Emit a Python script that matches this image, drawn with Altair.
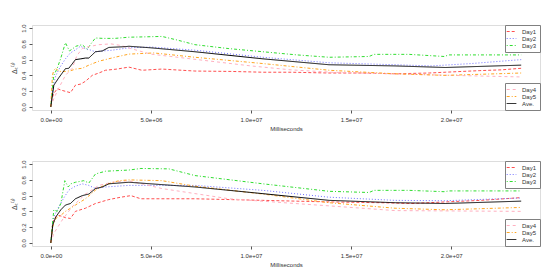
import altair as alt
import pandas as pd

SERIES = ["Day1", "Day2", "Day3", "Day4", "Day5", "Ave."]
COLORS = ["#ff5050", "#7070ff", "#30dd30", "#ffb0c0", "#ffa520", "#000000"]
DASHES = [[3, 2], [1, 2], [1, 2, 3, 2], [3, 3], [3, 2, 1, 2], [1, 0]]
WIDTHS = [1, 1, 1, 1, 1, 1.8]

X_TICKS = [0, 5e6, 1e7, 1.5e7, 2e7]
X_TICK_LABELS = ["0.0e+00", "5.0e+06", "1.0e+07", "1.5e+07", "2.0e+07"]
Y_TICKS = [0, 0.2, 0.4, 0.6, 0.8, 1.0]

# ---- top panel (x in millions of ms) ----
top_day1_x = [0, 0.05, 0.15, 0.32, 0.55, 0.98, 1.23, 1.5, 1.73, 2.07, 2.4, 2.73, 3.3, 3.9, 4.55, 5.55, 7.2, 9, 10.6, 12, 13.9, 15.5, 17.2, 18.9, 19.7, 21.4, 22.5, 23.5]
top_day1_y = [0, 0.10, 0.17, 0.23, 0.21, 0.18, 0.275, 0.29, 0.325, 0.40, 0.43, 0.465, 0.48, 0.505, 0.465, 0.48, 0.455, 0.45, 0.44, 0.44, 0.43, 0.43, 0.42, 0.43, 0.44, 0.46, 0.47, 0.49]
top_day2_x = [0, 0.1, 0.25, 0.5, 0.73, 0.98, 1.2, 1.48, 1.73, 2.0, 2.23, 2.6, 3.07, 3.9, 5, 7.2, 10.6, 13.9, 17.2, 19, 21, 23.5]
top_day2_y = [0, 0.25, 0.40, 0.52, 0.61, 0.685, 0.72, 0.77, 0.74, 0.72, 0.70, 0.71, 0.72, 0.75, 0.76, 0.72, 0.63, 0.56, 0.535, 0.52, 0.55, 0.60]
top_day3_x = [0, 0.1, 0.15, 0.32, 0.5, 0.73, 0.93, 1.1, 1.25, 1.57, 1.82, 2.0, 2.23, 2.6, 3.2, 3.9, 4.8, 5.55, 6.3, 7.2, 8.9, 10.6, 12.3, 13.9, 15.9, 16.15, 17.9, 19.65, 19.9, 23.5]
top_day3_y = [0, 0.30, 0.40, 0.49, 0.62, 0.815, 0.71, 0.74, 0.77, 0.79, 0.73, 0.80, 0.875, 0.87, 0.87, 0.885, 0.89, 0.895, 0.85, 0.79, 0.74, 0.70, 0.66, 0.63, 0.64, 0.667, 0.667, 0.64, 0.66, 0.66]
top_day4_x = [0, 0.15, 0.4, 0.73, 1.07, 1.3, 1.57, 1.8, 2.4, 3.0, 3.5, 4.0, 5.0, 6.0, 8.0, 10, 12, 14, 17, 20, 23.5]
top_day4_y = [0, 0.105, 0.24, 0.40, 0.49, 0.65, 0.74, 0.76, 0.79, 0.80, 0.78, 0.74, 0.67, 0.64, 0.58, 0.52, 0.47, 0.44, 0.42, 0.40, 0.38]
top_day5_x = [0, 0.08, 0.15, 0.25, 0.4, 0.73, 1.0, 1.23, 1.57, 1.9, 2.4, 3.2, 3.9, 5.15, 7.2, 10.6, 13.9, 17.2, 19.7, 23.5]
top_day5_y = [0, 0.40, 0.465, 0.49, 0.45, 0.45, 0.46, 0.48, 0.49, 0.53, 0.58, 0.63, 0.67, 0.685, 0.63, 0.55, 0.465, 0.42, 0.40, 0.43]
top_ave_x = [0, 0.15, 0.4, 0.73, 0.9, 1.23, 1.5, 1.73, 1.9, 2.23, 2.57, 2.9, 3.73, 3.9, 5.0, 7.2, 10.6, 13.9, 17.2, 19.7, 23.5]
top_ave_y = [0, 0.275, 0.37, 0.485, 0.49, 0.60, 0.61, 0.62, 0.62, 0.70, 0.71, 0.755, 0.765, 0.77, 0.75, 0.70, 0.61, 0.535, 0.52, 0.50, 0.53]

# ---- bottom panel ----
bot_day1_x = [0, 0.1, 0.25, 0.4, 0.73, 0.98, 1.23, 1.73, 2.23, 2.9, 3.5, 4.0, 4.5, 5.55, 7.2, 10.6, 13.9, 16.5, 18, 19.7, 21.5, 23.5]
bot_day1_y = [0, 0.27, 0.33, 0.35, 0.32, 0.31, 0.40, 0.44, 0.50, 0.55, 0.58, 0.60, 0.56, 0.56, 0.56, 0.54, 0.52, 0.51, 0.50, 0.52, 0.54, 0.575]
bot_day2_x = [0, 0.15, 0.4, 0.67, 0.9, 1.23, 1.57, 1.9, 2.23, 2.73, 3.9, 7.2, 10.6, 13.9, 17.2, 19.7, 23.5]
bot_day2_y = [0, 0.33, 0.46, 0.58, 0.67, 0.72, 0.75, 0.73, 0.69, 0.71, 0.73, 0.73, 0.667, 0.58, 0.54, 0.535, 0.57]
bot_day3_x = [0, 0.1, 0.15, 0.32, 0.5, 0.7, 0.87, 1.0, 1.23, 1.65, 1.9, 2.23, 2.73, 3.9, 4.5, 5.9, 7.2, 10.6, 13.9, 15.9, 16.15, 17.9, 19.65, 19.9, 23.5]
bot_day3_y = [0, 0.29, 0.42, 0.40, 0.50, 0.79, 0.71, 0.75, 0.77, 0.79, 0.76, 0.875, 0.91, 0.925, 0.945, 0.94, 0.855, 0.75, 0.655, 0.64, 0.667, 0.667, 0.65, 0.66, 0.66]
bot_day4_x = [0, 0.15, 0.57, 1.07, 1.73, 2.4, 3.07, 3.9, 5.55, 8.9, 12.2, 13.9, 17.2, 23.5]
bot_day4_y = [0, 0.12, 0.29, 0.46, 0.62, 0.73, 0.77, 0.79, 0.69, 0.56, 0.50, 0.47, 0.41, 0.40]
bot_day5_x = [0, 0.1, 0.25, 0.5, 0.73, 1.23, 1.73, 2.23, 2.73, 3.4, 3.9, 5.55, 7.2, 10.6, 13.9, 17.2, 19.7, 23.5]
bot_day5_y = [0, 0.21, 0.31, 0.35, 0.40, 0.48, 0.56, 0.67, 0.74, 0.79, 0.80, 0.79, 0.72, 0.62, 0.51, 0.44, 0.42, 0.45]
bot_ave_x = [0, 0.1, 0.25, 0.5, 0.73, 0.98, 1.23, 1.57, 1.9, 2.23, 2.57, 2.9, 3.9, 7.2, 10.6, 13.9, 17.2, 19.7, 23.5]
bot_ave_y = [0, 0.23, 0.33, 0.42, 0.48, 0.50, 0.56, 0.60, 0.62, 0.69, 0.71, 0.75, 0.77, 0.71, 0.625, 0.54, 0.51, 0.50, 0.53]

TOP = {"Day1": (top_day1_x, top_day1_y), "Day2": (top_day2_x, top_day2_y),
       "Day3": (top_day3_x, top_day3_y), "Day4": (top_day4_x, top_day4_y),
       "Day5": (top_day5_x, top_day5_y), "Ave.": (top_ave_x, top_ave_y)}
BOT = {"Day1": (bot_day1_x, bot_day1_y), "Day2": (bot_day2_x, bot_day2_y),
       "Day3": (bot_day3_x, bot_day3_y), "Day4": (bot_day4_x, bot_day4_y),
       "Day5": (bot_day5_x, bot_day5_y), "Ave.": (bot_ave_x, bot_ave_y)}

FONT = "Liberation Sans"
label_expr = "[" + ",".join("'%s'" % s for s in X_TICK_LABELS) + "][indexof([" + \
    ",".join(repr(v) for v in X_TICKS) + "], datum.value)]"


def table(d):
    rows = []
    for s, (xs, ys) in d.items():
        for xv, yv in zip(xs, ys):
            rows.append({"series": s, "x": xv * 1e6, "y": yv})
    return pd.DataFrame(rows)


def group(df, names, orient):
    idx = [SERIES.index(n) for n in names]
    leg = alt.Legend(orient=orient, offset=0, title=None, padding=3,
                     strokeColor="#808080", fillColor="white",
                     labelFontSize=6, labelFont=FONT, labelColor="#333",
                     symbolType="M-1.6,0L1.6,0", symbolSize=36, rowPadding=0,
                     labelOffset=7, cornerRadius=0)
    return alt.Chart(df[df.series.isin(names)]).mark_line(clip=True).encode(
        x=alt.X("x:Q", scale=alt.Scale(domain=[-0.94e6, 2.444e7], nice=False, zero=False),
                axis=alt.Axis(values=X_TICKS, labelExpr=label_expr, title="Milliseconds",
                              grid=False, domain=False, tickSize=3, tickColor="#555",
                              labelFontSize=6, labelFont=FONT, labelPadding=3,
                              titleFontSize=6, titleFont=FONT, titleFontWeight="normal",
                              titlePadding=3, labelColor="#333", titleColor="#333")),
        y=alt.Y("y:Q", scale=alt.Scale(domain=[-0.04, 1.04], nice=False, zero=False),
                axis=alt.Axis(values=Y_TICKS, format=".1f", title="Δₜ⁽ˡ⁾",
                              grid=False, domain=False, tickSize=3, tickColor="#555",
                              labelAngle=270, labelFontSize=6, labelFont=FONT,
                              labelPadding=3, titleFontSize=7, titleFont=FONT,
                              titleFontWeight="normal", titlePadding=3,
                              labelColor="#333", titleColor="#333")),
        color=alt.Color("series:N", scale=alt.Scale(domain=names, range=[COLORS[i] for i in idx]), legend=leg),
        strokeDash=alt.StrokeDash("series:N", scale=alt.Scale(domain=names, range=[DASHES[i] for i in idx]), legend=leg),
        strokeWidth=alt.StrokeWidth("series:N", scale=alt.Scale(domain=names, range=[WIDTHS[i] for i in idx]), legend=leg),
    )


def panel(d):
    df = table(d)
    a = group(df, ["Day1", "Day2", "Day3"], "top-right")
    b = group(df, ["Day4", "Day5", "Ave."], "bottom-right")
    return alt.layer(a, b).resolve_scale(
        color="independent", strokeDash="independent", strokeWidth="independent"
    ).resolve_legend(color="independent", strokeDash="independent", strokeWidth="independent"
    ).properties(width=508, height=85)


chart = alt.vconcat(panel(TOP), panel(BOT), spacing=27).properties(
    padding={"left": 1, "top": 15, "right": 0, "bottom": 0}
).configure_view(stroke="#808080", strokeWidth=1).configure(background="white")

chart.save("out.html", embed_options={"renderer": "svg", "actions": False})
